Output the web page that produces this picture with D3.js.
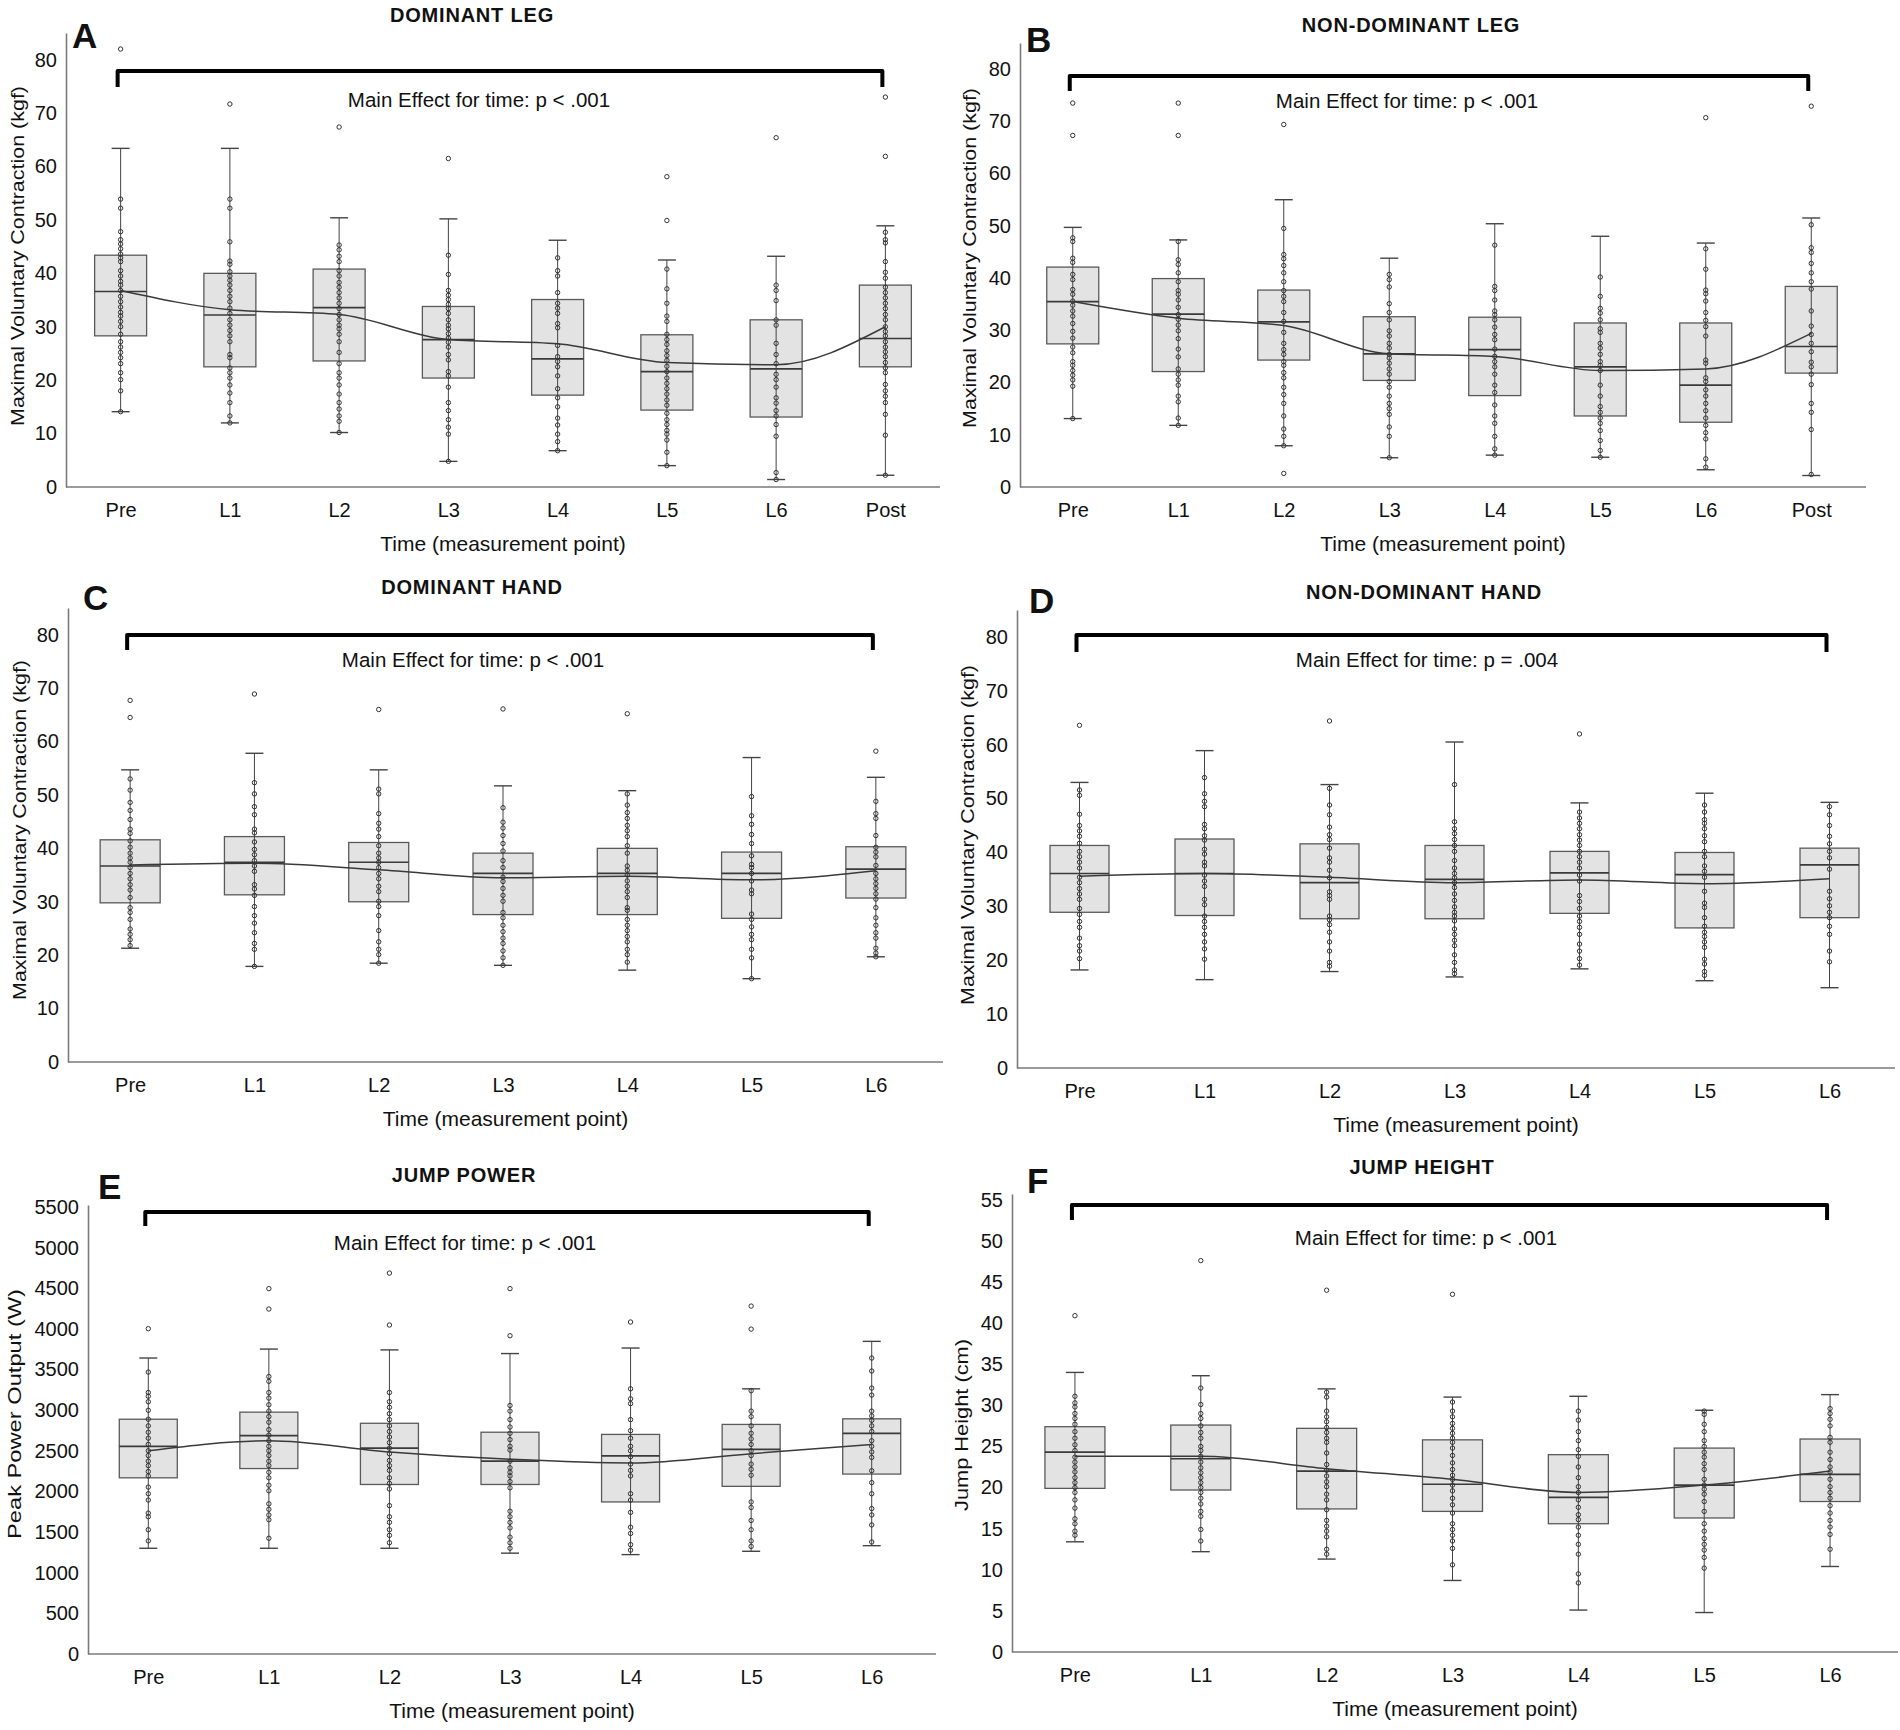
<!DOCTYPE html>
<html>
<head>
<meta charset="utf-8">
<script src="https://cdn.jsdelivr.net/npm/d3@7"></script>
<style>
  body { margin: 0; background: #fff; }
  svg text { font-family: "Liberation Sans", Arial, sans-serif; fill: #111; }
</style>
</head>
<body>
<script>
// Categories and tick labels
const legTimes = ["Pre", "L1", "L2", "L3", "L4", "L5", "L6", "Post"];
const handTimes = ["Pre", "L1", "L2", "L3", "L4", "L5", "L6"];
const kgfTicks = [0, 10, 20, 30, 40, 50, 60, 70, 80];
const powerTicks = [0, 500, 1000, 1500, 2000, 2500, 3000, 3500, 4000, 4500, 5000, 5500];
const heightTicks = [0, 5, 10, 15, 20, 25, 30, 35, 40, 45, 50, 55];

// A - dominant leg (kgf)
const domLegLow = [14.1, 12.0, 10.2, 4.8, 6.8, 4.0, 1.4, 2.2];
const domLegQ1 = [28.3, 22.5, 23.6, 20.4, 17.2, 14.4, 13.1, 22.5];
const domLegMedian = [36.6, 32.2, 33.6, 27.6, 24.0, 21.6, 22.1, 27.8];
const domLegQ3 = [43.4, 40.0, 40.8, 33.8, 35.1, 28.5, 31.3, 37.8];
const domLegHigh = [63.4, 63.4, 50.4, 50.2, 46.2, 42.5, 43.2, 48.9];
const domLegMean = [36.8, 33.2, 32.3, 27.6, 26.8, 23.3, 22.9, 30.0];
const domLegOutliers = [[82.0], [71.7], [67.4], [61.5], [], [58.1, 49.9], [65.4], [73.0, 61.9]];
const domLegPoints = [
  [53.9, 52.2, 47.8, 46.3, 45.5, 44.6, 43.6, 42.9, 42.2, 40.5, 39.5, 38.5, 37.8, 36.8, 35.7, 34.7, 33.7, 32.7, 32, 31, 30, 28.6, 27.2, 26.2, 25.2, 24.2, 23.1, 21.4, 20.1, 18, 14.1],
  [53.9, 52.2, 45.9, 42.3, 41.7, 40.3, 39.5, 38.7, 37.8, 36.8, 35.7, 34.7, 33.5, 32.5, 31.3, 30.3, 29.3, 28.3, 27.2, 24.8, 24.2, 22.3, 21.4, 20.4, 19.1, 17.6, 15.8, 13.3, 12],
  [45.3, 44.4, 43.2, 42.2, 40.5, 39.5, 38.3, 37.4, 36.4, 35.4, 34.4, 33.4, 32.3, 31.3, 30.3, 29.6, 28.6, 27.2, 25.2, 23.1, 21.4, 20.4, 19.1, 17.4, 15.8, 14.6, 13.3, 12.3, 10.2],
  [43.4, 39.8, 36.8, 35.9, 35.1, 34.2, 33.4, 32.5, 31.3, 30.3, 29.6, 28.7, 27.9, 27.1, 26.2, 24.8, 23.8, 21.6, 20.8, 18.7, 15.8, 14.3, 12.6, 11.2, 9.9, 4.8],
  [42.9, 40.5, 39.5, 36.4, 34.4, 33.5, 32.5, 30.6, 29.8, 26.5, 24.4, 23.5, 22.5, 20.8, 18.4, 16.7, 15, 12.9, 11.6, 9.9, 8.5, 6.8],
  [40.8, 37.1, 34.4, 32, 31, 28.6, 27.6, 26.7, 25.5, 24.6, 23.7, 22.6, 21.6, 20.4, 19.4, 18.4, 17.4, 16.3, 15.3, 13.8, 12.6, 11.7, 10.6, 9.9, 8.8, 6.5, 4.0],
  [37.8, 36.8, 34.9, 31.3, 30.3, 26.9, 24.8, 23.1, 21.1, 20.1, 18.7, 16.7, 15.7, 14.3, 13.3, 11.7, 9.5, 2.7, 1.4],
  [47.7, 46.3, 45.7, 42.2, 40.2, 39.1, 37.4, 36.4, 35.4, 34.4, 33.4, 32.3, 31.3, 30, 29.1, 28.3, 27.2, 26.2, 25.3, 24.4, 23.3, 22.3, 21.4, 19.2, 18, 17, 15.8, 13.6, 9.7, 2.2]
];

// B - non-dominant leg (kgf)
const nonDomLegLow = [13.1, 11.8, 7.9, 5.6, 6.1, 5.7, 3.3, 2.2];
const nonDomLegQ1 = [27.4, 22.1, 24.3, 20.4, 17.5, 13.6, 12.4, 21.8];
const nonDomLegMedian = [35.5, 33.1, 31.6, 25.5, 26.3, 23.0, 19.5, 26.9];
const nonDomLegQ3 = [42.1, 39.9, 37.7, 32.6, 32.5, 31.4, 31.4, 38.4];
const nonDomLegHigh = [49.7, 47.3, 55.0, 43.8, 50.4, 48.0, 46.7, 51.5];
const nonDomLegMean = [35.5, 32.3, 30.9, 25.5, 25.0, 22.3, 22.6, 29.4];
const nonDomLegOutliers = [[73.5, 67.3], [73.5, 67.3], [69.4, 2.6], [], [], [], [70.7], [72.9]];
const nonDomLegPoints = [
  [47.7, 47, 43.8, 43, 40.7, 39.7, 37.8, 36.9, 35.6, 34.8, 33.7, 32.7, 31.3, 29.8, 28.5, 26.8, 25.7, 24, 23.3, 22.3, 21.4, 20.5, 19.3, 13.1],
  [47, 43.5, 42.6, 41, 39.3, 37.6, 36.9, 35.8, 34.4, 33, 32.1, 31, 29.9, 28.4, 26.4, 24.9, 22.6, 21.6, 20.5, 19.5, 17.4, 16.3, 13.2, 11.8],
  [49.5, 44.5, 43.7, 42.4, 41, 39.3, 37.6, 36.5, 35.5, 33.4, 31.7, 29.6, 27.5, 26.3, 25.4, 24, 23.3, 21.9, 20.9, 19.1, 17.7, 16, 13.6, 11.1, 9.7, 7.9],
  [40.7, 39.7, 38.3, 35.1, 33.4, 32, 29.9, 28.9, 27.5, 26.6, 25.4, 24.7, 23.7, 22.6, 21.6, 20.2, 19.1, 17.4, 16, 15, 13.9, 11.5, 9.7, 5.6],
  [46.3, 38.4, 37.6, 35.8, 33.7, 33, 32, 30.6, 29.2, 28.2, 26.4, 25, 24, 23, 21.6, 19.5, 18.1, 15.7, 13.6, 12.2, 9.7, 7.3, 6.1],
  [40.2, 36.5, 34.2, 33.3, 32, 30.3, 29.6, 27.5, 26.6, 25.4, 24, 23.3, 22.3, 19.5, 17.4, 15.4, 14.3, 13.2, 12.2, 10.8, 8.9, 7, 5.7],
  [45.6, 41.7, 37.7, 37, 35.6, 33.4, 31.9, 30.7, 28.9, 24.3, 23.7, 20.9, 20.2, 18.6, 17.4, 16, 14.6, 13.2, 11.8, 10.4, 9.2, 5.4, 3.8],
  [50.2, 45.8, 44.9, 42.8, 41, 39.3, 37.9, 33.7, 30.8, 29.2, 27.5, 25.9, 23.9, 23, 21.6, 19.6, 16, 14.3, 11, 2.4]
];

// C - dominant hand (kgf)
const domHandLow = [21.3, 17.9, 18.5, 18.1, 17.2, 15.6, 19.7];
const domHandQ1 = [29.8, 31.3, 30.0, 27.6, 27.6, 26.9, 30.7];
const domHandMedian = [36.7, 37.4, 37.4, 35.3, 35.3, 35.3, 36.1];
const domHandQ3 = [41.6, 42.2, 41.1, 39.1, 40.0, 39.3, 40.3];
const domHandHigh = [54.7, 57.8, 54.7, 51.7, 50.8, 57.0, 53.3];
const domHandMean = [36.9, 37.2, 36.0, 34.5, 34.8, 34.1, 35.8];
const domHandOutliers = [[67.7, 64.5], [68.9], [66.0], [66.1], [65.2], [], [58.2]];
const domHandPoints = [
  [53, 50.9, 48.6, 47.1, 45.4, 43.6, 42.8, 41.4, 40.2, 39.1, 38.2, 37.4, 36.4, 35.3, 34.3, 33.2, 32.2, 30.8, 28.9, 28, 26.7, 24.9, 23.9, 22.9, 21.8],
  [52.3, 50.2, 47.8, 46.3, 43.6, 42.9, 41.2, 39.8, 38.8, 37.7, 36.7, 35.7, 33.2, 32.4, 31.2, 29.1, 27.4, 26, 24.2, 22.2, 21.1, 17.9],
  [51.1, 50.2, 46.5, 44.7, 43.6, 42.2, 40.5, 39.1, 38.2, 37.4, 36.4, 35.3, 34.3, 32.9, 31.9, 30.1, 29.1, 27.4, 24.6, 22.5, 21.1, 20.1, 18.5],
  [47.6, 44.9, 43.8, 42.4, 40.9, 39.5, 37.7, 36.4, 34.6, 33.8, 32.5, 31.2, 30.1, 28, 27, 25.6, 24.4, 23.2, 22.2, 20.8, 19.5, 18.1],
  [50.2, 48.1, 46.7, 45.6, 44.3, 43.3, 42.2, 40.5, 39.1, 36.7, 35.9, 35, 33.9, 32.9, 31.9, 30.8, 28.9, 28.4, 26.7, 25.6, 24.6, 23.5, 22.5, 21.1, 20.1, 18.7],
  [49.7, 46.1, 44.5, 42.6, 40.9, 38.6, 37, 36.4, 35.3, 33.9, 32.2, 31.5, 27.7, 26.7, 25.3, 23.9, 22.9, 21.1, 19.5, 15.6],
  [48.8, 46.5, 45.6, 42.4, 40.2, 39.3, 38.4, 36.8, 35.3, 34.3, 33.4, 32.5, 31.5, 30.5, 28.9, 27, 25.6, 24.2, 23.2, 21.3, 20.4, 19.7]
];

// D - non-dominant hand (kgf)
const nonDomHandLow = [18.2, 16.4, 17.9, 16.9, 18.4, 16.2, 14.9];
const nonDomHandQ1 = [28.9, 28.3, 27.7, 27.7, 28.7, 26.0, 27.9];
const nonDomHandMedian = [36.1, 36.1, 34.4, 35.0, 36.2, 35.9, 37.7];
const nonDomHandQ3 = [41.3, 42.5, 41.6, 41.3, 40.2, 40.0, 40.8];
const nonDomHandHigh = [53.0, 58.9, 52.6, 60.5, 49.2, 51.0, 49.3];
const nonDomHandMean = [35.6, 36.1, 35.4, 34.4, 34.9, 34.2, 35.1];
const nonDomHandOutliers = [[63.6], [], [64.4], [], [62.0], [], []];
const nonDomHandPoints = [
  [51.6, 50.6, 47.1, 45, 44, 43, 41.7, 40.2, 39.2, 38.2, 37.1, 35.4, 34.4, 33.3, 32.3, 31.3, 29.6, 28.5, 27.2, 26.1, 24.1, 22.7, 21.7, 20.3],
  [53.9, 50.9, 49.5, 48.5, 45.2, 44.4, 43.1, 42.3, 40.6, 39.7, 38.2, 37.5, 35.8, 34.7, 33.7, 31.3, 30.3, 28.2, 27.2, 26.1, 24.8, 23.4, 22.1, 20.2],
  [51.9, 48.8, 47, 44.7, 43.3, 42.4, 40.8, 39, 38.2, 36.7, 35.3, 32.7, 32, 31.3, 28.2, 27.5, 26.6, 25.2, 23.4, 21.7, 19.6, 18.9],
  [52.6, 45.7, 44.4, 43.5, 42.4, 41.3, 40.2, 38.5, 37.1, 36.1, 35.3, 34.4, 33.5, 32.3, 31.1, 29.9, 28.9, 28.2, 27.3, 25.8, 24.8, 23.7, 22.7, 21, 19.6, 18.2, 17.5],
  [47.5, 46.4, 45.4, 44.4, 43.3, 42.3, 41.3, 40.2, 39.2, 38.2, 37.1, 35.8, 34.7, 32, 30.9, 29.6, 28.2, 27.2, 26.1, 24.8, 23, 21.7, 20.3, 19.1],
  [48.8, 47.5, 46.1, 45.4, 44.4, 43.1, 42, 40.2, 39.2, 37.5, 36.5, 35.4, 32.8, 30.6, 29.8, 27.9, 26.3, 25.2, 24.4, 23.4, 22.4, 20.2, 19.3, 17.9, 17.2],
  [48.5, 47, 45, 43, 41.6, 40.2, 39, 36.9, 32.8, 31.4, 30.1, 28.9, 27.9, 26.3, 24.8, 21.7, 19.7]
];

// E - jump power (W)
const jumpPowerLow = [1301, 1301, 1301, 1241, 1223, 1264, 1333];
const jumpPowerQ1 = [2168, 2282, 2086, 2086, 1871, 2063, 2214];
const jumpPowerMedian = [2556, 2688, 2533, 2373, 2437, 2519, 2716];
const jumpPowerQ3 = [2889, 2976, 2839, 2729, 2702, 2825, 2894];
const jumpPowerHigh = [3642, 3752, 3742, 3697, 3765, 3263, 3847];
const jumpPowerMean = [2501, 2624, 2487, 2396, 2350, 2465, 2579];
const jumpPowerOutliers = [[4003], [4496, 4245], [4687, 4048], [4496, 3916], [4085], [4281, 3998], []];
const jumpPowerPoints = [
  [3469, 3218, 3172, 3104, 2999, 2889, 2807, 2729, 2656, 2579, 2501, 2442, 2373, 2318, 2245, 2191, 2054, 1972, 1894, 1734, 1689, 1529, 1392],
  [3414, 3355, 3218, 3149, 3067, 2989, 2921, 2852, 2761, 2693, 2624, 2556, 2501, 2442, 2373, 2318, 2236, 2168, 2077, 2008, 1848, 1780, 1711, 1652, 1424],
  [3218, 3104, 3035, 2957, 2884, 2807, 2738, 2670, 2601, 2533, 2464, 2382, 2318, 2259, 2168, 2099, 2031, 1826, 1689, 1620, 1529, 1460, 1369],
  [3058, 2989, 2884, 2793, 2716, 2638, 2556, 2510, 2373, 2291, 2236, 2191, 2122, 2045, 1757, 1689, 1620, 1552, 1438, 1369, 1301],
  [3263, 3140, 3081, 2884, 2748, 2656, 2556, 2501, 2428, 2337, 2259, 2191, 1972, 1894, 1743, 1560, 1483, 1346, 1278],
  [3240, 2989, 2921, 2807, 2716, 2647, 2579, 2501, 2442, 2337, 2273, 2200, 1871, 1803, 1643, 1529, 1392, 1324],
  [3642, 3482, 3272, 3186, 2989, 2930, 2875, 2807, 2738, 2624, 2556, 2487, 2419, 2255, 2109, 1972, 1789, 1711, 1588, 1378]
];

// F - jump height (cm)
const jumpHeightLow = [13.4, 12.2, 11.3, 8.7, 5.1, 4.8, 10.4];
const jumpHeightQ1 = [19.9, 19.7, 17.4, 17.1, 15.6, 16.3, 18.3];
const jumpHeightMedian = [24.3, 23.5, 22.0, 20.4, 18.8, 20.3, 21.6];
const jumpHeightQ3 = [27.4, 27.6, 27.2, 25.8, 24.0, 24.8, 25.9];
const jumpHeightHigh = [34.0, 33.6, 32.0, 31.0, 31.1, 29.4, 31.3];
const jumpHeightMean = [23.8, 23.8, 22.3, 21.0, 19.4, 20.3, 22.0];
const jumpHeightOutliers = [[40.9], [47.6], [44.0], [43.5], [], [], []];
const jumpHeightPoints = [
  [31.1, 30.3, 29.8, 29, 28.4, 27.7, 26.8, 26, 25.2, 24.5, 23.7, 23.1, 22.5, 21.9, 21.2, 20.6, 20, 19.4, 18.5, 17.5, 16.2, 15.6, 14.7, 14.2],
  [32.1, 30.1, 29, 28.4, 27.5, 26.7, 26, 25, 24.5, 23.8, 23.1, 22.4, 21.8, 21.2, 20.6, 20, 19.4, 18.7, 18, 17.1, 16.5, 14.9, 13.5],
  [31.6, 31, 29.3, 28.6, 28, 27.3, 26.7, 26, 25.5, 24.2, 22.8, 22.1, 21.4, 20.7, 20.1, 19.2, 18.5, 17.3, 16, 15.3, 14.7, 14, 12.5, 11.9],
  [30.4, 29.3, 28.6, 27.8, 27.2, 26.6, 26, 25.5, 24.8, 23.9, 23, 22.2, 21.5, 21, 20.3, 19.6, 18.7, 17.9, 16.9, 15.6, 14.9, 14.2, 13.5, 12.6, 10.6],
  [29.3, 28.2, 26.8, 25.7, 24.6, 23.8, 22.5, 21.2, 20.1, 19.4, 18.5, 17.6, 16.7, 16.1, 15.2, 14.2, 13.1, 11.9, 9.5, 8.4],
  [29.3, 28.9, 27.7, 26.8, 25.7, 25, 24.3, 23.7, 22.9, 22.2, 21, 20.3, 19.8, 19.2, 18.3, 17.1, 15.6, 14.7, 13.8, 13.1, 12.4, 11.5, 10.2],
  [29.6, 29, 28.3, 27.5, 26.1, 25.5, 24.3, 23.4, 22.5, 21.9, 21, 20.1, 19.4, 18.7, 17.8, 16.9, 16, 15.2, 14.3, 12.5]
];

const svg = d3.select("body").append("svg")
  .attr("width", 1900)
  .attr("height", 1730);

// Draw one panel: layout holds positions only, series holds the data arrays
function drawPanel(layout, series) {
  const g = svg.append("g");

  const x = d3.scalePoint()
    .domain(series.cats)
    .range([layout.left, layout.right])
    .padding(0.5);

  const y = d3.scaleLinear()
    .domain([0, layout.axisMax])
    .range([layout.y0, layout.yTop]);

  // Y axis
  const yAxis = g.append("g")
    .attr("transform", `translate(${layout.left},0)`)
    .call(d3.axisLeft(y).tickValues(series.ticks).tickFormat(d3.format("d"))
      .tickSize(0).tickPadding(9).tickSizeOuter(0));
  yAxis.select(".domain").attr("stroke", "#7a7a7a").attr("stroke-width", 1.6);
  yAxis.selectAll("text").attr("font-size", 20).attr("fill", "#111")
    .attr("font-family", "Liberation Sans, Arial, sans-serif");

  // X axis
  const xAxis = g.append("g")
    .attr("transform", `translate(0,${layout.y0})`)
    .call(d3.axisBottom(x).tickSize(0).tickPadding(16).tickSizeOuter(0));
  xAxis.select(".domain")
    .attr("d", `M${layout.left},0H${layout.axisEnd}`)
    .attr("stroke", "#7a7a7a").attr("stroke-width", 1.6);
  xAxis.selectAll("text").attr("font-size", 20).attr("fill", "#111")
    .attr("font-family", "Liberation Sans, Arial, sans-serif");

  // Axis titles
  g.append("text")
    .attr("x", (layout.left + layout.axisEnd) / 2)
    .attr("y", layout.y0 + 64)
    .attr("text-anchor", "middle")
    .attr("font-size", 21)
    .text("Time (measurement point)");

  g.append("text")
    .attr("transform", `translate(${layout.yTitleX},${layout.yTitleY}) rotate(-90)`)
    .attr("text-anchor", "middle")
    .attr("font-family", "DejaVu Sans, sans-serif")
    .attr("font-size", 19)
    .attr("textLength", layout.yTitleLen)
    .attr("lengthAdjust", "spacingAndGlyphs")
    .text(series.yTitle);

  // Panel title and letter
  g.append("text")
    .attr("x", layout.titleX)
    .attr("y", layout.titleY)
    .attr("text-anchor", "middle")
    .attr("font-size", 20)
    .attr("font-weight", "bold")
    .attr("letter-spacing", 0.8)
    .text(series.title);

  g.append("text")
    .attr("x", layout.letterX)
    .attr("y", layout.letterY)
    .attr("font-size", 35)
    .attr("font-weight", "bold")
    .text(series.letter);

  // Bracket for main effect
  const bx0 = x(series.cats[0]) - 3;
  const bx1 = x(series.cats[series.cats.length - 1]) - 3;
  g.append("path")
    .attr("d", `M${bx0},${layout.bracketY + layout.bracketDrop}V${layout.bracketY}H${bx1}V${layout.bracketY + layout.bracketDrop}`)
    .attr("fill", "none")
    .attr("stroke", "#000")
    .attr("stroke-width", 4)
    .attr("stroke-linejoin", "round");

  g.append("text")
    .attr("x", layout.effectX)
    .attr("y", layout.effectY)
    .attr("text-anchor", "middle")
    .attr("font-size", 20.5)
    .text(series.effect);

  const boxes = series.cats.map((c, i) => ({
    cat: c,
    low: series.low[i], q1: series.q1[i], median: series.median[i],
    q3: series.q3[i], high: series.high[i]
  }));
  const bw = layout.boxWidth;
  const cap = 9;

  // Boxes
  g.selectAll(".box").data(boxes).enter().append("rect")
    .attr("x", d => x(d.cat) - bw / 2)
    .attr("y", d => y(d.q3))
    .attr("width", bw)
    .attr("height", d => y(d.q1) - y(d.q3))
    .attr("fill", "#e3e3e3")
    .attr("stroke", "#5a5a5a")
    .attr("stroke-width", 1.3);

  // Whiskers (run through the box)
  g.selectAll(".whisker").data(boxes).enter().append("line")
    .attr("x1", d => x(d.cat)).attr("x2", d => x(d.cat))
    .attr("y1", d => y(d.low)).attr("y2", d => y(d.high))
    .attr("stroke", "#444").attr("stroke-width", 1);

  g.selectAll(".capHi").data(boxes).enter().append("line")
    .attr("x1", d => x(d.cat) - cap).attr("x2", d => x(d.cat) + cap)
    .attr("y1", d => y(d.high)).attr("y2", d => y(d.high))
    .attr("stroke", "#444").attr("stroke-width", 1.4);

  g.selectAll(".capLo").data(boxes).enter().append("line")
    .attr("x1", d => x(d.cat) - cap).attr("x2", d => x(d.cat) + cap)
    .attr("y1", d => y(d.low)).attr("y2", d => y(d.low))
    .attr("stroke", "#444").attr("stroke-width", 1.4);

  // Medians
  g.selectAll(".median").data(boxes).enter().append("line")
    .attr("x1", d => x(d.cat) - bw / 2).attr("x2", d => x(d.cat) + bw / 2)
    .attr("y1", d => y(d.median)).attr("y2", d => y(d.median))
    .attr("stroke", "#3a3a3a").attr("stroke-width", 1.7);

  // Mean line
  const meanLine = d3.line()
    .x((d, i) => x(series.cats[i]))
    .y(d => y(d))
    .curve(d3.curveMonotoneX);
  g.append("path")
    .datum(series.mean)
    .attr("d", meanLine)
    .attr("fill", "none")
    .attr("stroke", "#3a3a3a")
    .attr("stroke-width", 1.5);

  // Individual points and outliers
  const dots = [];
  series.cats.forEach((c, i) => {
    series.points[i].forEach(v => dots.push({ cat: c, v: v }));
    series.outliers[i].forEach(v => dots.push({ cat: c, v: v }));
  });
  g.selectAll(".dot").data(dots).enter().append("circle")
    .attr("cx", d => x(d.cat))
    .attr("cy", d => y(d.v))
    .attr("r", 2.2)
    .attr("fill", "none")
    .attr("stroke", "#333")
    .attr("stroke-width", 1);
}

const kgfTitle = "Maximal Voluntary Contraction (kgf)";
const effectLow = "Main Effect for time: p < .001";

drawPanel(
  { left: 66, right: 940, axisEnd: 940, y0: 487, yTop: 33, axisMax: 85, boxWidth: 52,
    titleX: 472, titleY: 22, letterX: 72, letterY: 48, yTitleX: 24, yTitleY: 256, yTitleLen: 340,
    bracketY: 71, bracketDrop: 16, effectX: 479, effectY: 107 },
  { cats: legTimes, ticks: kgfTicks, title: "DOMINANT LEG", letter: "A", yTitle: kgfTitle, effect: effectLow,
    low: domLegLow, q1: domLegQ1, median: domLegMedian, q3: domLegQ3, high: domLegHigh,
    mean: domLegMean, outliers: domLegOutliers, points: domLegPoints });

drawPanel(
  { left: 1020, right: 1864, axisEnd: 1866, y0: 487, yTop: 43, axisMax: 85, boxWidth: 52,
    titleX: 1411, titleY: 32, letterX: 1026, letterY: 52, yTitleX: 976, yTitleY: 258, yTitleLen: 340,
    bracketY: 76, bracketDrop: 15, effectX: 1407, effectY: 108 },
  { cats: legTimes, ticks: kgfTicks, title: "NON-DOMINANT LEG", letter: "B", yTitle: kgfTitle, effect: effectLow,
    low: nonDomLegLow, q1: nonDomLegQ1, median: nonDomLegMedian, q3: nonDomLegQ3, high: nonDomLegHigh,
    mean: nonDomLegMean, outliers: nonDomLegOutliers, points: nonDomLegPoints });

drawPanel(
  { left: 68, right: 938, axisEnd: 943, y0: 1062, yTop: 608, axisMax: 85, boxWidth: 60,
    titleX: 472, titleY: 594, letterX: 83, letterY: 610, yTitleX: 26, yTitleY: 830, yTitleLen: 340,
    bracketY: 635, bracketDrop: 15, effectX: 473, effectY: 667 },
  { cats: handTimes, ticks: kgfTicks, title: "DOMINANT HAND", letter: "C", yTitle: kgfTitle, effect: effectLow,
    low: domHandLow, q1: domHandQ1, median: domHandMedian, q3: domHandQ3, high: domHandHigh,
    mean: domHandMean, outliers: domHandOutliers, points: domHandPoints });

drawPanel(
  { left: 1017, right: 1892, axisEnd: 1895, y0: 1068, yTop: 610, axisMax: 85, boxWidth: 59,
    titleX: 1424, titleY: 599, letterX: 1029, letterY: 613, yTitleX: 974, yTitleY: 835, yTitleLen: 340,
    bracketY: 635, bracketDrop: 17, effectX: 1427, effectY: 667 },
  { cats: handTimes, ticks: kgfTicks, title: "NON-DOMINANT HAND", letter: "D", yTitle: kgfTitle,
    effect: "Main Effect for time: p = .004",
    low: nonDomHandLow, q1: nonDomHandQ1, median: nonDomHandMedian, q3: nonDomHandQ3, high: nonDomHandHigh,
    mean: nonDomHandMean, outliers: nonDomHandOutliers, points: nonDomHandPoints });

drawPanel(
  { left: 88, right: 932, axisEnd: 936, y0: 1654, yTop: 1205, axisMax: 5525, boxWidth: 58,
    titleX: 464, titleY: 1182, letterX: 98, letterY: 1199, yTitleX: 21, yTitleY: 1414, yTitleLen: 250,
    bracketY: 1212, bracketDrop: 14, effectX: 465, effectY: 1250 },
  { cats: handTimes, ticks: powerTicks, title: "JUMP POWER", letter: "E", yTitle: "Peak Power Output (W)", effect: effectLow,
    low: jumpPowerLow, q1: jumpPowerQ1, median: jumpPowerMedian, q3: jumpPowerQ3, high: jumpPowerHigh,
    mean: jumpPowerMean, outliers: jumpPowerOutliers, points: jumpPowerPoints });

drawPanel(
  { left: 1012, right: 1893, axisEnd: 1898, y0: 1652, yTop: 1194, axisMax: 55.7, boxWidth: 60,
    titleX: 1422, titleY: 1174, letterX: 1027, letterY: 1193, yTitleX: 968, yTitleY: 1425, yTitleLen: 172,
    bracketY: 1205, bracketDrop: 15, effectX: 1426, effectY: 1245 },
  { cats: handTimes, ticks: heightTicks, title: "JUMP HEIGHT", letter: "F", yTitle: "Jump Height (cm)", effect: effectLow,
    low: jumpHeightLow, q1: jumpHeightQ1, median: jumpHeightMedian, q3: jumpHeightQ3, high: jumpHeightHigh,
    mean: jumpHeightMean, outliers: jumpHeightOutliers, points: jumpHeightPoints });
</script>
</body>
</html>
